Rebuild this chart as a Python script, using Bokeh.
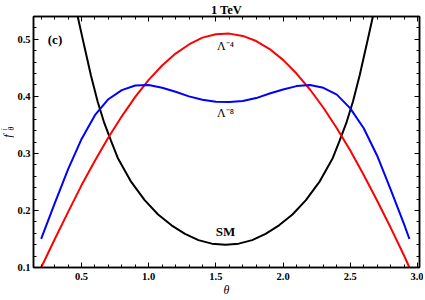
from bokeh.plotting import figure
from bokeh.models import (Range1d, LinearAxis, SingleIntervalTicker, Label,
                          PrintfTickFormatter, CustomJSTickFormatter)
from bokeh.layouts import row
from bokeh.embed import file_html
from bokeh.resources import INLINE
import math

# ---- data ----
theta = [0.2, 0.3, 0.4, 0.5, 0.6, 0.7, 0.8, 0.9, 1.0, 1.1, 1.2, 1.3, 1.4, 1.5,
         1.6, 1.7, 1.8, 1.9, 2.0, 2.1, 2.2, 2.3, 2.4, 2.5, 2.6, 2.7, 2.8, 2.9, 2.94]
lam4 = [0.100, 0.149, 0.197, 0.244, 0.287, 0.328, 0.365, 0.399, 0.429, 0.454, 0.475, 0.491, 0.503, 0.509,
        0.510, 0.506, 0.497, 0.483, 0.464, 0.440, 0.412, 0.380, 0.344, 0.305, 0.262, 0.217, 0.170, 0.121, 0.100]
lam8 = [0.150, 0.212, 0.272, 0.325, 0.367, 0.395, 0.411, 0.419, 0.420, 0.415, 0.408, 0.400, 0.394, 0.3905,
        0.390, 0.392, 0.397, 0.405, 0.412, 0.418, 0.420, 0.415, 0.403, 0.379, 0.344, 0.296, 0.237, 0.176, 0.150]
sm_theta = [0.42, 0.47, 0.52, 0.57, 0.62, 0.67, 0.72, 0.77, 0.87, 0.97, 1.07, 1.17, 1.27, 1.37, 1.47, 1.571,
            1.67, 1.77, 1.87, 1.97, 2.07, 2.17, 2.27, 2.37, 2.42, 2.47, 2.52, 2.57, 2.62, 2.67, 2.72]
sm = [0.598, 0.542, 0.489, 0.437, 0.391, 0.353, 0.322, 0.292, 0.250, 0.218, 0.193, 0.174, 0.159, 0.148, 0.1418, 0.140,
      0.1418, 0.148, 0.159, 0.174, 0.193, 0.218, 0.250, 0.292, 0.322, 0.353, 0.391, 0.437, 0.489, 0.542, 0.598]

SERIF = "Liberation Serif"

# ---- narrow strip holding the rotated y-axis label f^i_theta ----
lf = figure(width=14, height=300, x_range=Range1d(0, 14), y_range=Range1d(300, 0),
            output_backend="svg", toolbar_location=None, min_border=0,
            x_axis_location=None, y_axis_location=None)
lf.grid.visible = False
lf.outline_line_color = None
for txt, xx, yy, size in [("f", 7, 143, "12px"), ("i", 3.5, 135, "7.5px"), ("θ", 10.5, 134, "7.5px")]:
    lf.add_layout(Label(x=xx, y=yy, text=txt, text_font=SERIF, text_font_style="italic",
                        text_font_size=size, text_align="center", text_baseline="middle",
                        angle=math.pi / 2, text_color="black"))

# ---- main plot ----
p = figure(width=409, height=300, x_range=Range1d(0.143, 3.015), y_range=Range1d(0.1, 0.54),
           output_backend="svg", toolbar_location=None,
           min_border_left=19, min_border_right=4, min_border_top=0, min_border_bottom=33,
           title="1 TeV")
p.title.align = "center"
p.title.text_font = SERIF
p.title.text_font_style = "bold"
p.title.text_font_size = "12.5px"
p.title.text_color = "black"
p.title.standoff = 0
p.grid.visible = False
p.outline_line_color = "black"
p.outline_line_width = 1.5

p.line(sm_theta, sm, line_color="black", line_width=2)
p.line(theta, lam4, line_color="#ff0000", line_width=2)
p.line(theta, lam8, line_color="#0000ff", line_width=2)

bottom = p.below[0]
left = p.left[0]
bottom.ticker = SingleIntervalTicker(interval=0.5, num_minor_ticks=5)
left.ticker = SingleIntervalTicker(interval=0.1, num_minor_ticks=5)
bottom.formatter = PrintfTickFormatter(format="%.1f")
left.formatter = PrintfTickFormatter(format="%.1f")

empty = CustomJSTickFormatter(code="return ''")
top = LinearAxis(ticker=SingleIntervalTicker(interval=0.5, num_minor_ticks=5), formatter=empty)
right = LinearAxis(ticker=SingleIntervalTicker(interval=0.1, num_minor_ticks=5), formatter=empty)
p.add_layout(top, "above")
p.add_layout(right, "right")

for ax in [bottom, left, top, right]:
    ax.major_tick_in = 5
    ax.major_tick_out = 0
    ax.minor_tick_in = 3
    ax.minor_tick_out = 0
    ax.axis_line_width = 1.5
    ax.axis_line_color = "black"
    ax.major_tick_line_color = "black"
    ax.minor_tick_line_color = "black"
    ax.major_label_text_font = SERIF
    ax.major_label_text_font_style = "bold"
    ax.major_label_text_font_size = "10.5px"
    ax.major_label_text_color = "black"
for ax in [top, right]:
    ax.major_label_standoff = 0
bottom.major_label_standoff = 5
left.major_label_standoff = 3

bottom.axis_label = "θ"
bottom.axis_label_text_font = SERIF
bottom.axis_label_text_font_style = "italic"
bottom.axis_label_text_font_size = "12px"
bottom.axis_label_text_color = "black"
bottom.axis_label_standoff = 0

def lab(**kw):
    base = dict(text_font=SERIF, text_color="black", text_align="center", text_baseline="middle")
    base.update(kw)
    p.add_layout(Label(**base))

lab(x=0.303, y=0.5, text="(c)", text_font_size="13px", text_font_style="bold")
lab(x=1.571, y=0.489, text="Λ⁻⁴", text_font_size="12px")
lab(x=1.571, y=0.371, text="Λ⁻⁸", text_font_size="12px")
lab(x=1.571, y=0.163, text="SM", text_font_size="13px", text_font_style="bold")

open("out.html", "w").write(file_html(row(lf, p), INLINE))
